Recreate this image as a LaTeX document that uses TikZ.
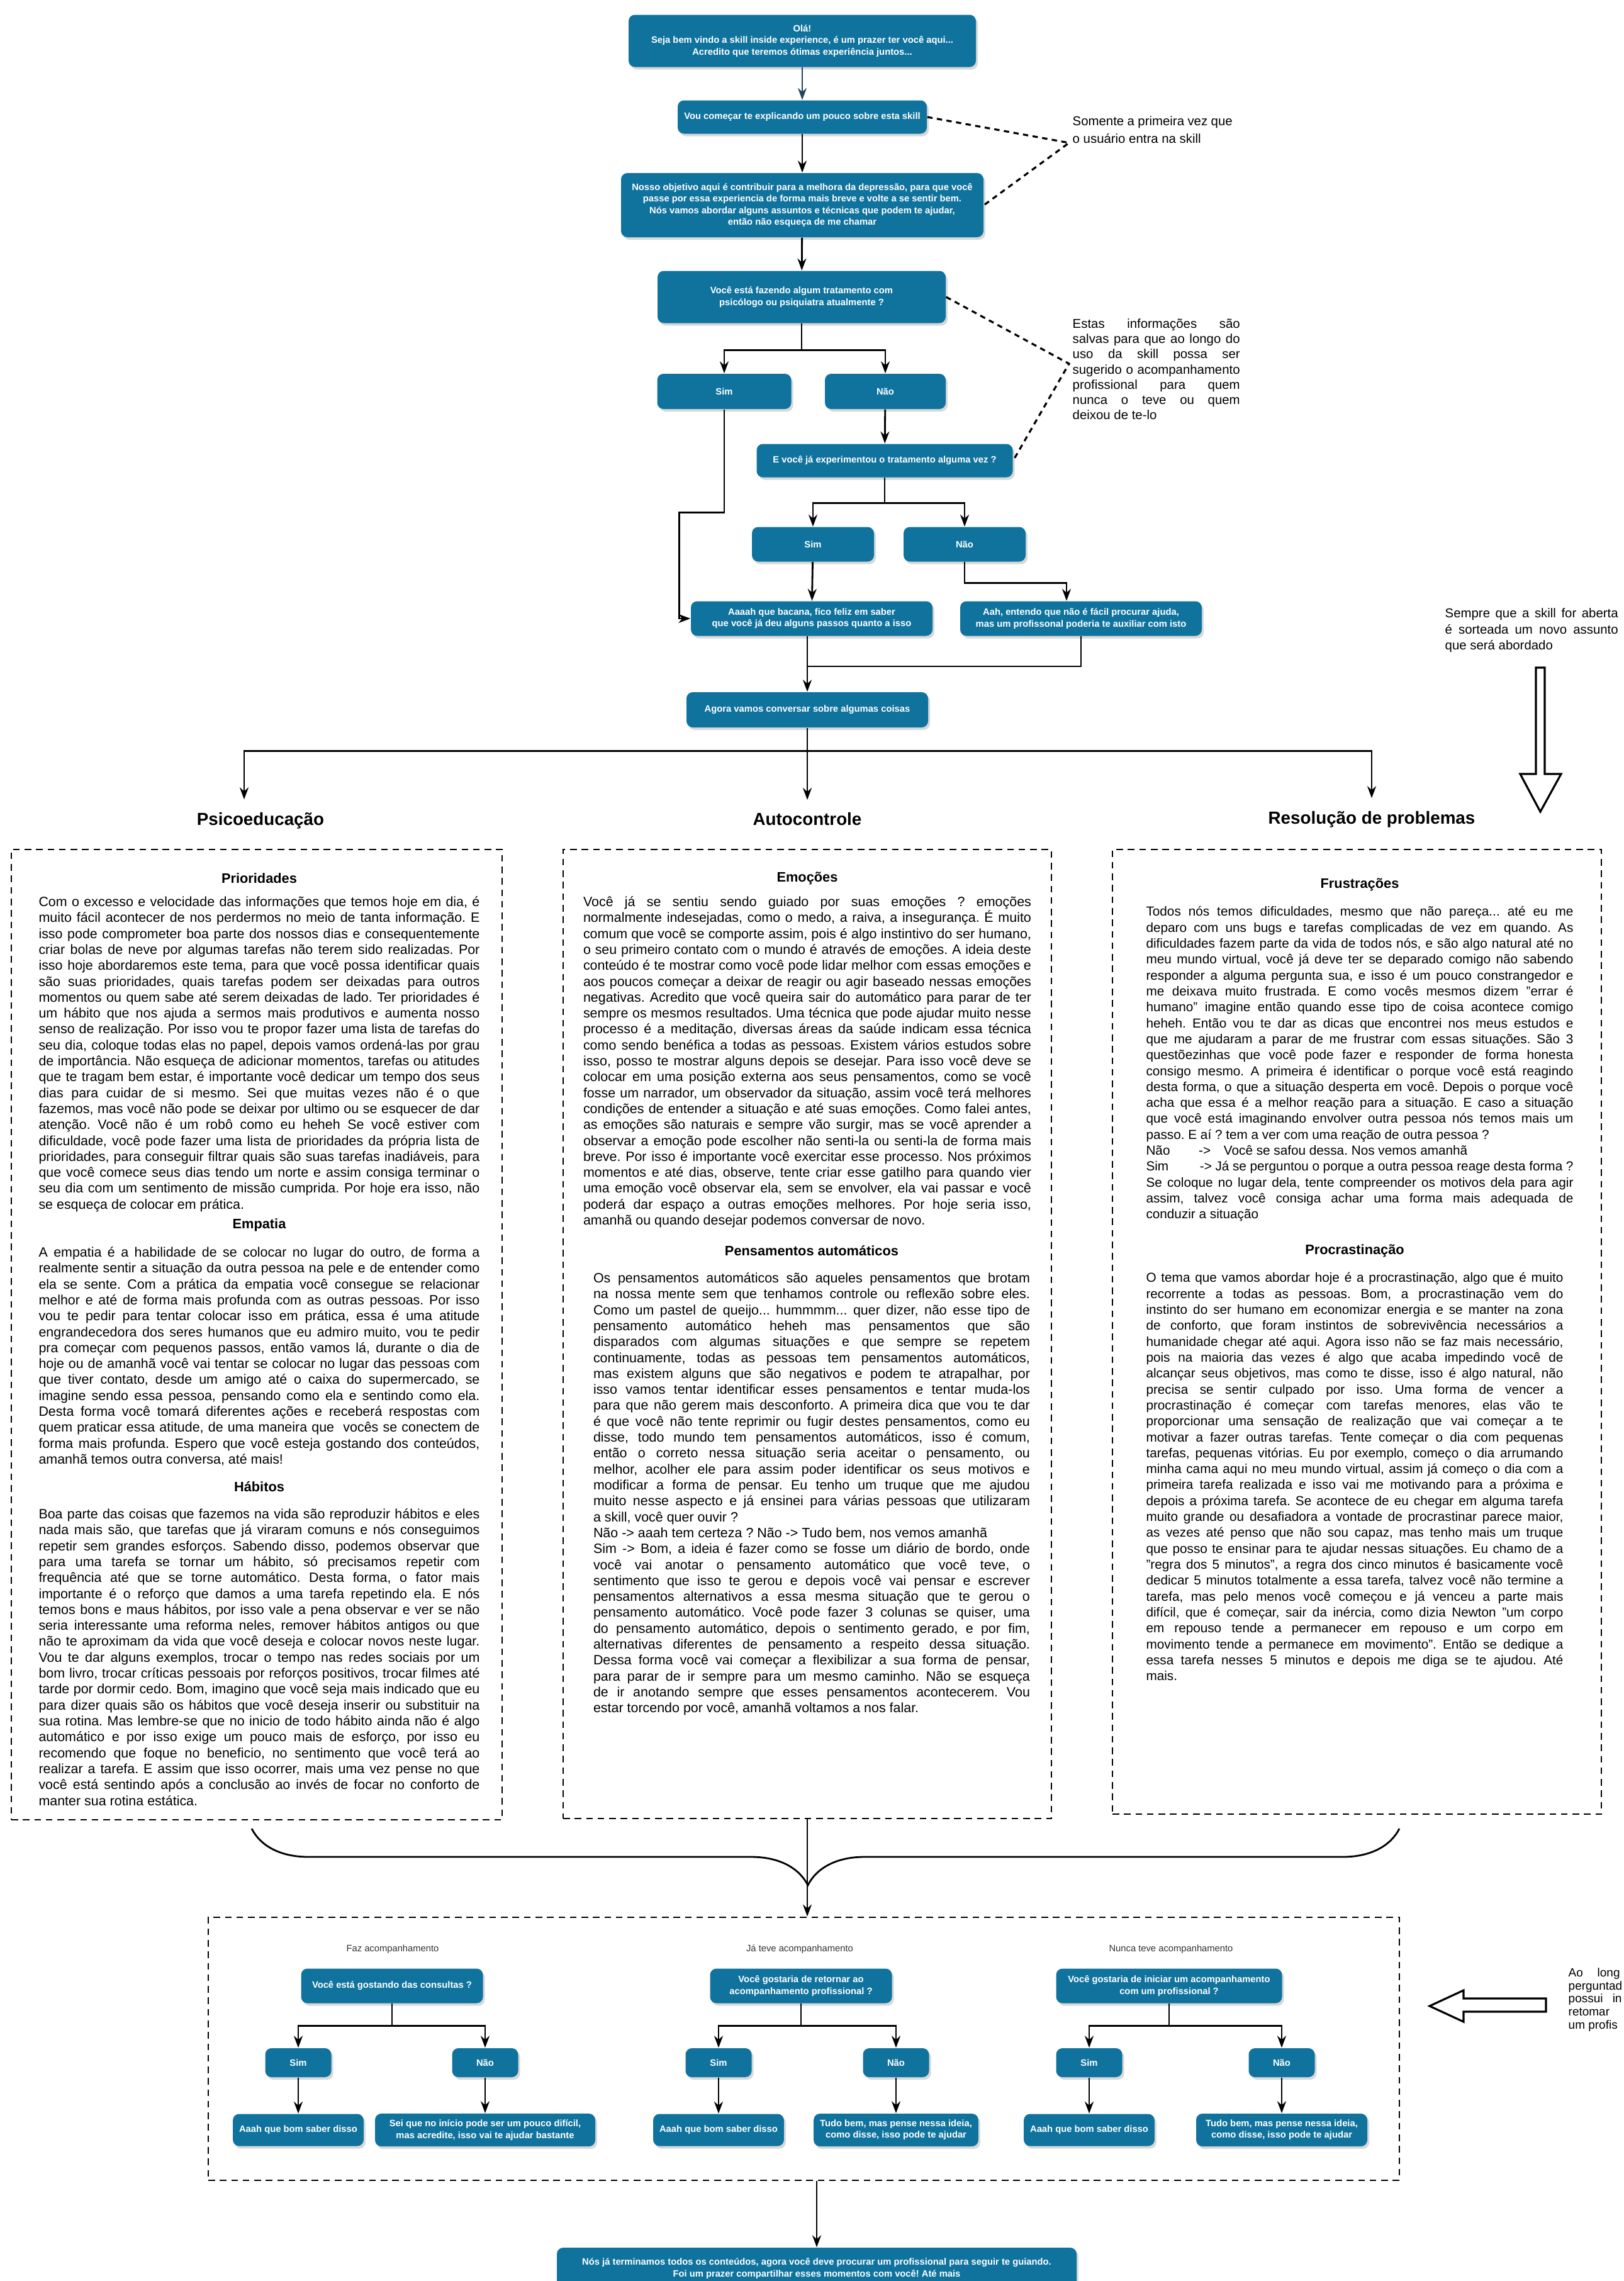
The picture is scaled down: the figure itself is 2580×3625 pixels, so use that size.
\documentclass[tikz,border=0pt]{standalone}
\usepackage{fontspec}
\setmainfont{Liberation Sans}
\usetikzlibrary{arrows.meta,positioning,shadows,decorations.pathreplacing}
\definecolor{boxblue}{HTML}{10739E}
\definecolor{slatearrow}{HTML}{23445D}
\definecolor{labelgray}{HTML}{333333}
\frenchspacing
\newlength\jwidth
\newcommand\spreadspaces{\frenchspacing\spaceskip=.278em plus 1em minus .1em\relax}
\newcommand\bodytext[1][6.1]{\fontsize{#1}{7.2}\selectfont\spreadspaces}
\newcommand\notetext[1]{\fontsize{5.8}{#1}\selectfont\spreadspaces}
\newcommand\jline[1]{\leavevmode\hbox to\jwidth{\spreadspaces#1}}

\begin{document}
\begin{tikzpicture}[x=0.1mm, y=-0.1mm,
  box/.style={rectangle, rounded corners=1mm, fill=boxblue, text=white, align=center, inner sep=1mm,
    font=\fontsize{4.2}{5.2}\selectfont\bfseries, drop shadow={shadow xshift=.3mm, shadow yshift=-.4mm, fill=black!30}},
  flow/.style={-{Stealth[length=1.9mm, width=1.4mm]}, line width=.8pt},
  line/.style={line width=.8pt},
  elbow/.style={to path={-| (\tikztotarget)}},
  hint/.style={dash pattern=on 2.4pt off 2pt, line width=.9pt},
  column/.style={draw, dash pattern=on 3pt off 2.2pt, line width=.8pt},
  heading/.style={font=\fontsize{7.9}{9}\selectfont\bfseries, inner sep=2mm},
  subhead/.style={font=\fontsize{6.2}{7}\selectfont\bfseries, inner sep=0pt},
  para/.style={anchor=north, inner sep=0pt, align=justify, font=\bodytext, text width=#1, /utils/exec={\global\jwidth=#1\relax}},
  remark/.style={anchor=north west, inner sep=0pt, align=justify, text width=#1, /utils/exec={\global\jwidth=#1\relax}},
  grouplabel/.style={font=\fontsize{4.2}{5}\selectfont, text=labelgray}]

  \path[use as bounding box, fill=white] (0,0) rectangle (2580,3625);

  \node[box, minimum width=55.2mm, minimum height=8.3mm] (ola) at (1275,65) {Olá!\\Seja bem vindo a skill inside experience, é um prazer ter você aqui...\\Acredito que teremos ótimas experiência juntos...};
  \node[box, minimum width=39.6mm, minimum height=5.3mm] (intro) at (1275,186) {Vou começar te explicando um pouco sobre esta skill};
  \node[box, minimum width=57.6mm, minimum height=10.2mm] (objetivo) at (1275,326) {Nosso objetivo aqui é contribuir para a melhora da depressão, para que você\\passe por essa experiencia de forma mais breve e volte a se sentir bem.\\Nós vamos abordar alguns assuntos e técnicas que podem te ajudar,\\então não esqueça de me chamar};
  \node[box, minimum width=45.8mm, minimum height=8.3mm] (tratamento) at (1274,472) {Você está fazendo algum tratamento com\\psicólogo ou psiquiatra atualmente ?};
  \node[box, minimum width=21.3mm, minimum height=5.6mm] (simA) at (1151,622) {Sim};
  \node[box, minimum width=19.2mm, minimum height=5.6mm] (naoA) at (1407,622) {Não};
  \node[box, minimum width=40.7mm, minimum height=5.3mm] (experimentou) at (1406,732) {E você já experimentou o tratamento alguma vez ?};
  \node[box, minimum width=19.4mm, minimum height=5.5mm] (simB) at (1292,865) {Sim};
  \node[box, minimum width=19.4mm, minimum height=5.5mm] (naoB) at (1533,865) {Não};
  \node[box, minimum width=38.4mm, minimum height=5.5mm] (bacana) at (1290,983) {Aaaah que bacana, fico feliz em saber\\que você já deu alguns passos quanto a isso};
  \node[box, minimum width=38.4mm, minimum height=5.5mm] (entendo) at (1718,983) {Aah, entendo que não é fácil procurar ajuda,\\mas um profissonal poderia te auxiliar com isto};
  \node[box, minimum width=38.4mm, minimum height=5.6mm] (agora) at (1283,1128) {Agora vamos conversar sobre algumas coisas};

  \node[remark=25.4mm, font={\notetext{8}}] (primeiravez) at (1704,184) {\jline{Somente a primeira vez que}\\o usuário entra na skill};
  \node[remark=26.6mm, font={\notetext{6.9}}] (salvas) at (1704,506) {\jline{Estas informações são}\\ \jline{salvas para que ao longo do}\\ \jline{uso da skill possa ser}\\ \jline{sugerido o acompanhamento}\\ \jline{profissional para quem}\\ \jline{nunca o teve ou quem}\\ deixou de te-lo};
  \node[remark=27.5mm, font={\notetext{7.3}}] (sorteio) at (2296,966) {\jline{Sempre que a skill for aberta}\\ \jline{é sorteada um novo assunto}\\ que será abordado};

  \coordinate (tipinicio) at (1699,227);
  \coordinate (tipsalvas) at (1699,578);
  \draw[hint] (intro.east) -- (tipinicio) -- (objetivo.east);
  \draw[hint] (tratamento.east) -- (tipsalvas) -- (experimentou.east);

  \draw[flow, slatearrow] (ola) -- (intro);
  \path[flow] (intro) edge (objetivo)
    (objetivo) edge (tratamento)
    (naoA) edge (experimentou)
    (simB) edge (bacana);
  \draw[line] (tratamento.south) -- ++(0,42) coordinate (splitA);
  \path[flow] (splitA) edge[elbow] (simA) edge[elbow] (naoA);
  \draw[line] (experimentou.south) -- ++(0,40) coordinate (splitB);
  \path[flow] (splitB) edge[elbow] (simB) edge[elbow] (naoB);
  \draw[flow] (naoB.south) -- ++(0,33) -| ([xshift=-2.3mm]entendo.north);
  \draw[flow] (simA.south) -- ++(0,164) -| ([xshift=-1.8mm]bacana.west) -- (bacana.west);
  \draw[flow] (agora.north |- bacana.south) -- (agora.north);
  \coordinate (junta) at (1283,1059);
  \draw[line] (entendo.south) |- (junta);

  \node[heading] (hpsico) at (414,1304) {Psicoeducação};
  \node[heading] (hauto) at (1283,1302) {Autocontrole};
  \node[heading] (hresol) at (2180,1302) {Resolução de problemas};
  \draw[line] (agora.south) -- ++(0,37) coordinate (hub);
  \draw[flow] (hub) -| ([xshift=-2.6mm]hpsico.north);
  \draw[flow] (hub) -- (hauto.north);
  \draw[flow] (hub) -| (hresol.north);

  \draw[line width=.9pt, fill=white] (2441,1061) -- (2455,1061) -- (2455,1230) -- (2481,1230) -- (2448,1290) -- (2416,1230) -- (2441,1230) -- cycle;

  \node[column, minimum width=78mm, minimum height=154.2mm] (colpsico) at (408,2121) {};
  \node[column, minimum width=77.6mm, minimum height=154mm] (colauto) at (1283,2120) {};
  \node[column, minimum width=77.7mm, minimum height=153.3mm] (colresol) at (2156.5,2116.5) {};

  \node[subhead] (tprior) at (412,1396) {Prioridades};
  \node[para=70.1mm] (prior) at (412,1424) {\jline{Com o excesso e velocidade das informações que temos hoje em dia, é}\\
    \jline{muito fácil acontecer de nos perdermos no meio de tanta informação. E}\\
    \jline{isso pode comprometer boa parte dos nossos dias e consequentemente}\\
    \jline{criar bolas de neve por algumas tarefas não terem sido realizadas. Por}\\
    \jline{isso hoje abordaremos este tema, para que você possa identificar quais}\\
    \jline{são suas prioridades, quais tarefas podem ser deixadas para outros}\\
    \jline{momentos ou quem sabe até serem deixadas de lado. Ter prioridades é}\\
    \jline{um hábito que nos ajuda a sermos mais produtivos e aumenta nosso}\\
    \jline{senso de realização. Por isso vou te propor fazer uma lista de tarefas do}\\
    \jline{seu dia, coloque todas elas no papel, depois vamos ordená-las por grau}\\
    \jline{de importância. Não esqueça de adicionar momentos, tarefas ou atitudes}\\
    \jline{que te tragam bem estar, é importante você dedicar um tempo dos seus}\\
    \jline{dias para cuidar de si mesmo. Sei que muitas vezes não é o que}\\
    \jline{fazemos, mas você não pode se deixar por ultimo ou se esquecer de dar}\\
    \jline{atenção. Você não é um robô como eu heheh Se você estiver com}\\
    \jline{dificuldade, você pode fazer uma lista de prioridades da própria lista de}\\
    \jline{prioridades, para conseguir filtrar quais são suas tarefas inadiáveis, para}\\
    \jline{que você comece seus dias tendo um norte e assim consiga terminar o}\\
    \jline{seu dia com um sentimento de missão cumprida. Por hoje era isso, não}\\
    se esqueça de colocar em prática.};
  \node[subhead] (tempatia) at (412,1947) {Empatia};
  \node[para=70.1mm] (empatia) at (412,1981) {\jline{A empatia é a habilidade de se colocar no lugar do outro, de forma a}\\
    \jline{realmente sentir a situação da outra pessoa na pele e de entender como}\\
    \jline{ela se sente. Com a prática da empatia você consegue se relacionar}\\
    \jline{melhor e até de forma mais profunda com as outras pessoas. Por isso}\\
    \jline{vou te pedir para tentar colocar isso em prática, essa é uma atitude}\\
    \jline{engrandecedora dos seres humanos que eu admiro muito, vou te pedir}\\
    \jline{pra começar com pequenos passos, então vamos lá, durante o dia de}\\
    \jline{hoje ou de amanhã você vai tentar se colocar no lugar das pessoas com}\\
    \jline{que tiver contato, desde um amigo até o caixa do supermercado, se}\\
    \jline{imagine sendo essa pessoa, pensando como ela e sentindo como ela.}\\
    \jline{Desta forma você tomará diferentes ações e receberá respostas com}\\
    \jline{quem praticar essa atitude, de uma maneira que \ vocês se conectem de}\\
    \jline{forma mais profunda. Espero que você esteja gostando dos conteúdos,}\\
    amanhã temos outra conversa, até mais!};
  \node[subhead] (thabitos) at (412,2363) {Hábitos};
  \node[para=70.1mm] (habitos) at (412,2397) {\jline{Boa parte das coisas que fazemos na vida são reproduzir hábitos e eles}\\
    \jline{nada mais são, que tarefas que já viraram comuns e nós conseguimos}\\
    \jline{repetir sem grandes esforços. Sabendo disso, podemos observar que}\\
    \jline{para uma tarefa se tornar um hábito, só precisamos repetir com}\\
    \jline{frequência até que se torne automático. Desta forma, o fator mais}\\
    \jline{importante é o reforço que damos a uma tarefa repetindo ela. E nós}\\
    \jline{temos bons e maus hábitos, por isso vale a pena observar e ver se não}\\
    \jline{seria interessante uma reforma neles, remover hábitos antigos ou que}\\
    \jline{não te aproximam da vida que você deseja e colocar novos neste lugar.}\\
    \jline{Vou te dar alguns exemplos, trocar o tempo nas redes sociais por um}\\
    \jline{bom livro, trocar críticas pessoais por reforços positivos, trocar filmes até}\\
    \jline{tarde por dormir cedo. Bom, imagino que você seja mais indicado que eu}\\
    \jline{para dizer quais são os hábitos que você deseja inserir ou substituir na}\\
    \jline{sua rotina. Mas lembre-se que no inicio de todo hábito ainda não é algo}\\
    \jline{automático e por isso exige um pouco mais de esforço, por isso eu}\\
    \jline{recomendo que foque no beneficio, no sentimento que você terá ao}\\
    \jline{realizar a tarefa. E assim que isso ocorrer, mais uma vez pense no que}\\
    \jline{você está sentindo após a conclusão ao invés de focar no conforto de}\\
    manter sua rotina estática.};

  \node[subhead] (temocoes) at (1283,1396) {Emoções};
  \node[para=71.2mm] (emocoes) at (1283,1424) {\jline{Você já se sentiu sendo guiado por suas emoções ? emoções}\\
    \jline{normalmente indesejadas, como o medo, a raiva, a insegurança. É muito}\\
    \jline{comum que você se comporte assim, pois é algo instintivo do ser humano,}\\
    \jline{o seu primeiro contato com o mundo é através de emoções. A ideia deste}\\
    \jline{conteúdo é te mostrar como você pode lidar melhor com essas emoções e}\\
    \jline{aos poucos começar a deixar de reagir ou agir baseado nessas emoções}\\
    \jline{negativas. Acredito que você queira sair do automático para parar de ter}\\
    \jline{sempre os mesmos resultados. Uma técnica que pode ajudar muito nesse}\\
    \jline{processo é a meditação, diversas áreas da saúde indicam essa técnica}\\
    \jline{como sendo benéfica a todas as pessoas. Existem vários estudos sobre}\\
    \jline{isso, posso te mostrar alguns depois se desejar. Para isso você deve se}\\
    \jline{colocar em uma posição externa aos seus pensamentos, como se você}\\
    \jline{fosse um narrador, um observador da situação, assim você terá melhores}\\
    \jline{condições de entender a situação e até suas emoções. Como falei antes,}\\
    \jline{as emoções são naturais e sempre vão surgir, mas se você aprender a}\\
    \jline{observar a emoção pode escolher não senti-la ou senti-la de forma mais}\\
    \jline{breve. Por isso é importante você exercitar esse processo. Nos próximos}\\
    \jline{momentos e até dias, observe, tente criar esse gatilho para quando vier}\\
    \jline{uma emoção você observar ela, sem se envolver, ela vai passar e você}\\
    \jline{poderá dar espaço a outras emoções melhores. Por hoje seria isso,}\\
    amanhã ou quando desejar podemos conversar de novo.};
  \node[subhead] (tpensam) at (1290,1988) {Pensamentos automáticos};
  \node[para=69.4mm] (pensam) at (1290,2022) {\jline{Os pensamentos automáticos são aqueles pensamentos que brotam}\\
    \jline{na nossa mente sem que tenhamos controle ou reflexão sobre eles.}\\
    \jline{Como um pastel de queijo... hummmm... quer dizer, não esse tipo de}\\
    \jline{pensamento automático heheh mas pensamentos que são}\\
    \jline{disparados com algumas situações e que sempre se repetem}\\
    \jline{continuamente, todas as pessoas tem pensamentos automáticos,}\\
    \jline{mas existem alguns que são negativos e podem te atrapalhar, por}\\
    \jline{isso vamos tentar identificar esses pensamentos e tentar muda-los}\\
    \jline{para que não gerem mais desconforto. A primeira dica que vou te dar}\\
    \jline{é que você não tente reprimir ou fugir destes pensamentos, como eu}\\
    \jline{disse, todo mundo tem pensamentos automáticos, isso é comum,}\\
    \jline{então o correto nessa situação seria aceitar o pensamento, ou}\\
    \jline{melhor, acolher ele para assim poder identificar os seus motivos e}\\
    \jline{modificar a forma de pensar. Eu tenho um truque que me ajudou}\\
    \jline{muito nesse aspecto e já ensinei para várias pessoas que utilizaram}\\
    a skill, você quer ouvir ?\\
    Não -> aaah tem certeza ? Não -> Tudo bem, nos vemos amanhã\\
    \jline{Sim -> Bom, a ideia é fazer como se fosse um diário de bordo, onde}\\
    \jline{você vai anotar o pensamento automático que você teve, o}\\
    \jline{sentimento que isso te gerou e depois você vai pensar e escrever}\\
    \jline{pensamentos alternativos a essa mesma situação que te gerou o}\\
    \jline{pensamento automático. Você pode fazer 3 colunas se quiser, uma}\\
    \jline{do pensamento automático, depois o sentimento gerado, e por fim,}\\
    \jline{alternativas diferentes de pensamento a respeito dessa situação.}\\
    \jline{Dessa forma você vai começar a flexibilizar a sua forma de pensar,}\\
    \jline{para parar de ir sempre para um mesmo caminho. Não se esqueça}\\
    \jline{de ir anotando sempre que esses pensamentos acontecerem. Vou}\\
    estar torcendo por você, amanhã voltamos a nos falar.};

  \node[subhead] (tfrustr) at (2161,1406) {Frustrações};
  \node[para=67.9mm, font={\bodytext[5.9]}] (frustr) at (2161,1440) {\jline{Todos nós temos dificuldades, mesmo que não pareça... até eu me}\\
    \jline{deparo com uns bugs e tarefas complicadas de vez em quando. As}\\
    \jline{dificuldades fazem parte da vida de todos nós, e são algo natural até no}\\
    \jline{meu mundo virtual, você já deve ter se deparado comigo não sabendo}\\
    \jline{responder a alguma pergunta sua, e isso é um pouco constrangedor e}\\
    \jline{me deixava muito frustrada. E como vocês mesmos dizem "errar é}\\
    \jline{humano" imagine então quando esse tipo de coisa acontece comigo}\\
    \jline{heheh. Então vou te dar as dicas que encontrei nos meus estudos e}\\
    \jline{que me ajudaram a parar de me frustrar com essas situações. São 3}\\
    \jline{questõezinhas que você pode fazer e responder de forma honesta}\\
    \jline{consigo mesmo. A primeira é identificar o porque você está reagindo}\\
    \jline{desta forma, o que a situação desperta em você. Depois o porque você}\\
    \jline{acha que essa é a melhor reação para a situação. E caso a situação}\\
    \jline{que você está imaginando envolver outra pessoa nós temos mais um}\\
    passo. E aí ? tem a ver com uma reação de outra pessoa ?\\
    Não\hspace*{2.2em}->\hspace*{1em}Você se safou dessa. Nos vemos amanhã\\
    \jline{Sim\hspace*{2.4em}-> Já se perguntou o porque a outra pessoa reage desta forma ?}\\
    \jline{Se coloque no lugar dela, tente compreender os motivos dela para agir}\\
    \jline{assim, talvez você consiga achar uma forma mais adequada de}\\
    conduzir a situação};
  \node[subhead] (tprocr) at (2153,1988) {Procrastinação};
  \node[para=66.3mm, font={\bodytext[5.9]}] (procr) at (2153,2022) {\jline{O tema que vamos abordar hoje é a procrastinação, algo que é muito}\\
    \jline{recorrente a todas as pessoas. Bom, a procrastinação vem do}\\
    \jline{instinto do ser humano em economizar energia e se manter na zona}\\
    \jline{de conforto, que foram instintos de sobrevivência necessários a}\\
    \jline{humanidade chegar até aqui. Agora isso não se faz mais necessário,}\\
    \jline{pois na maioria das vezes é algo que acaba impedindo você de}\\
    \jline{alcançar seus objetivos, mas como te disse, isso é algo natural, não}\\
    \jline{precisa se sentir culpado por isso. Uma forma de vencer a}\\
    \jline{procrastinação é começar com tarefas menores, elas vão te}\\
    \jline{proporcionar uma sensação de realização que vai começar a te}\\
    \jline{motivar a fazer outras tarefas. Tente começar o dia com pequenas}\\
    \jline{tarefas, pequenas vitórias. Eu por exemplo, começo o dia arrumando}\\
    \jline{minha cama aqui no meu mundo virtual, assim já começo o dia com a}\\
    \jline{primeira tarefa realizada e isso vai me motivando para a próxima e}\\
    \jline{depois a próxima tarefa. Se acontece de eu chegar em alguma tarefa}\\
    \jline{muito grande ou desafiadora a vontade de procrastinar parece maior,}\\
    \jline{as vezes até penso que não sou capaz, mas tenho mais um truque}\\
    \jline{que posso te ensinar para te ajudar nessas situações. Eu chamo de a}\\
    \jline{"regra dos 5 minutos", a regra dos cinco minutos é basicamente você}\\
    \jline{dedicar 5 minutos totalmente a essa tarefa, talvez você não termine a}\\
    \jline{tarefa, mas pelo menos você começou e já venceu a parte mais}\\
    \jline{difícil, que é começar, sair da inércia, como dizia Newton "um corpo}\\
    \jline{em repouso tende a permanecer em repouso e um corpo em}\\
    \jline{movimento tende a permanece em movimento". Então se dedique a}\\
    \jline{essa tarefa nesses 5 minutos e depois me diga se te ajudou. Até}\\
    mais.};

  \coordinate (braceL) at (400,2906);
  \coordinate (braceR) at (2224,2906);
  \coordinate (bracetip) at (1283,2996);
  \draw[line, decorate, decoration={brace, mirror, amplitude=9mm, aspect=0.4846}] (braceL) -- (braceR);
  \draw[line] (colauto.south) -- (bracetip);

  \node[column, minimum width=189.3mm, minimum height=41.8mm] (acomp) at (1277.5,3256) {};
  \draw[flow] (bracetip) -- (bracetip |- acomp.north);

  \node[grouplabel] (lfaz) at (624,3098) {Faz acompanhamento};
  \node[grouplabel] (lja) at (1271,3098) {Já teve acompanhamento};
  \node[grouplabel] (lnunca) at (1861,3098) {Nunca teve acompanhamento};

  \node[box, minimum width=28.9mm, minimum height=5.5mm] (gostando) at (623,3156) {Você está gostando das consultas ?};
  \node[box, minimum width=28.9mm, minimum height=5.5mm] (retornar) at (1273,3156) {Você gostaria de retornar ao\\acompanhamento profissional ?};
  \node[box, minimum width=35.9mm, minimum height=5.5mm] (iniciar) at (1858,3156) {Você gostaria de iniciar um acompanhamento\\com um profissional ?};

  \node[box, minimum width=10.5mm, minimum height=4.6mm] (simG1) at (474,3278) {Sim};
  \node[box, minimum width=10.5mm, minimum height=4.6mm] (naoG1) at (771,3278) {Não};
  \node[box, minimum width=10.5mm, minimum height=4.6mm] (simG2) at (1142,3278) {Sim};
  \node[box, minimum width=10.5mm, minimum height=4.6mm] (naoG2) at (1424,3278) {Não};
  \node[box, minimum width=10.5mm, minimum height=4.6mm] (simG3) at (1731,3278) {Sim};
  \node[box, minimum width=10.5mm, minimum height=4.6mm] (naoG3) at (2037,3278) {Não};

  \node[box, minimum width=20.4mm, minimum height=5.1mm] (bomG1) at (474,3385) {Aaah que bom saber disso};
  \node[box, minimum width=35mm, minimum height=5.1mm] (seiG1) at (771,3385) {Sei que no início pode ser um pouco difícil,\\mas acredite, isso vai te ajudar bastante};
  \node[box, minimum width=20.4mm, minimum height=5.1mm] (bomG2) at (1142,3385) {Aaah que bom saber disso};
  \node[box, minimum width=25.4mm, minimum height=5.1mm] (tudoG2) at (1424,3385) {Tudo bem, mas pense nessa ideia,\\como disse, isso pode te ajudar};
  \node[box, minimum width=20.4mm, minimum height=5.1mm] (bomG3) at (1731,3385) {Aaah que bom saber disso};
  \node[box, minimum width=27.2mm, minimum height=5.1mm] (tudoG3) at (2037,3385) {Tudo bem, mas pense nessa ideia,\\como disse, isso pode te ajudar};

  \draw[line] (gostando.south) -- ++(0,35) coordinate (splitG1);
  \draw[line] (retornar.south) -- ++(0,35) coordinate (splitG2);
  \draw[line] (iniciar.south) -- ++(0,35) coordinate (splitG3);
  \path[flow] (splitG1) edge[elbow] (simG1) edge[elbow] (naoG1)
    (splitG2) edge[elbow] (simG2) edge[elbow] (naoG2)
    (splitG3) edge[elbow] (simG3) edge[elbow] (naoG3);
  \path[flow] (simG1) edge (bomG1) (naoG1) edge (seiG1)
    (simG2) edge (bomG2) (naoG2) edge (tudoG2)
    (simG3) edge (bomG3) (naoG3) edge (tudoG3);

  \node[box, minimum width=82.6mm, minimum height=6.6mm] (fim) at (1298,3605) {Nós já terminamos todos os conteúdos, agora você deve procurar um profissional para seguir te guiando.\\Foi um prazer compartilhar esses momentos com você! Até mais};
  \draw[flow] (acomp.south -| fim.north) -- (fim.north);

  \draw[line width=.9pt, fill=white] (2457,3176) -- (2326,3176) -- (2326,3163) -- (2272,3188) -- (2326,3213) -- (2326,3197) -- (2457,3197) -- cycle;
  \node[anchor=north west, inner sep=0pt, align=left, font=\fontsize{5.4}{5.9}\selectfont] (retomada) at (2492,3127) {Ao\hspace*{1.2em}long\\perguntad\\possui\hspace*{.8em}in\\retomar\\um profis};
\end{tikzpicture}
\end{document}
